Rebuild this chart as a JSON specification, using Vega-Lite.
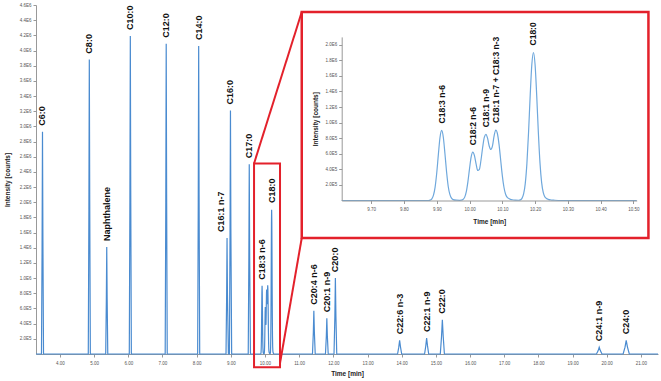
{
  "$schema": "https://vega.github.io/schema/vega-lite/v6.json",
  "width": 622,
  "height": 349,
  "autosize": {"type": "none"},
  "padding": {"left": 36, "top": 5, "right": 3, "bottom": 27},
  "background": "white",
  "config": {"view": {"stroke": null}, "font": "Liberation Sans"},
  "datasets": {
    "trace": [
      {"t": 3.3, "i": 0},
      {"t": 3.46, "i": 0}, {"t": 3.478, "i": 1400000}, {"t": 3.49, "i": 2930000}, {"t": 3.502, "i": 1500000}, {"t": 3.52, "i": 0},
      {"t": 4.83, "i": 0}, {"t": 4.848, "i": 1900000}, {"t": 4.86, "i": 3880000}, {"t": 4.872, "i": 2000000}, {"t": 4.89, "i": 0},
      {"t": 5.34, "i": 0}, {"t": 5.358, "i": 700000}, {"t": 5.37, "i": 1410000}, {"t": 5.382, "i": 720000}, {"t": 5.4, "i": 0},
      {"t": 6.03, "i": 0}, {"t": 6.048, "i": 2050000}, {"t": 6.06, "i": 4190000}, {"t": 6.072, "i": 2150000}, {"t": 6.09, "i": 0},
      {"t": 7.08, "i": 0}, {"t": 7.098, "i": 2000000}, {"t": 7.11, "i": 4090000}, {"t": 7.122, "i": 2100000}, {"t": 7.14, "i": 0},
      {"t": 8.03, "i": 0}, {"t": 8.048, "i": 2000000}, {"t": 8.06, "i": 4060000}, {"t": 8.072, "i": 2100000}, {"t": 8.09, "i": 0},
      {"t": 8.86, "i": 0}, {"t": 8.878, "i": 750000}, {"t": 8.89, "i": 1530000}, {"t": 8.902, "i": 780000}, {"t": 8.93, "i": 0},
      {"t": 8.96, "i": 0}, {"t": 8.978, "i": 1600000}, {"t": 8.99, "i": 3210000}, {"t": 9.002, "i": 1650000}, {"t": 9.025, "i": 0},
      {"t": 9.51, "i": 0}, {"t": 9.528, "i": 1230000}, {"t": 9.54, "i": 2500000}, {"t": 9.552, "i": 1280000}, {"t": 9.575, "i": 0},
      {"t": 9.61, "i": 0}, {"t": 9.7, "i": 0}, {"t": 9.8, "i": 0}, {"t": 9.875, "i": 0},
      {"t": 9.88, "i": 5000}, {"t": 9.885, "i": 20000}, {"t": 9.89, "i": 68000}, {"t": 9.895, "i": 172000}, {"t": 9.9, "i": 356000},
      {"t": 9.905, "i": 595000}, {"t": 9.91, "i": 812000}, {"t": 9.915, "i": 900000}, {"t": 9.92, "i": 812000}, {"t": 9.925, "i": 600000},
      {"t": 9.93, "i": 365000}, {"t": 9.935, "i": 180000}, {"t": 9.94, "i": 78000}, {"t": 9.945, "i": 30000}, {"t": 9.95, "i": 12000},
      {"t": 9.96, "i": 4000}, {"t": 9.97, "i": 2000}, {"t": 9.975, "i": 4000}, {"t": 9.98, "i": 12000}, {"t": 9.985, "i": 40000},
      {"t": 9.99, "i": 110000}, {"t": 9.995, "i": 240000}, {"t": 10.0, "i": 410000}, {"t": 10.005, "i": 560000}, {"t": 10.01, "i": 620000},
      {"t": 10.015, "i": 575000}, {"t": 10.02, "i": 470000}, {"t": 10.025, "i": 385000}, {"t": 10.03, "i": 400000}, {"t": 10.035, "i": 520000},
      {"t": 10.04, "i": 680000}, {"t": 10.045, "i": 810000}, {"t": 10.05, "i": 850000}, {"t": 10.055, "i": 800000}, {"t": 10.06, "i": 700000},
      {"t": 10.065, "i": 655000}, {"t": 10.07, "i": 700000}, {"t": 10.075, "i": 830000}, {"t": 10.08, "i": 905000}, {"t": 10.085, "i": 860000},
      {"t": 10.09, "i": 720000}, {"t": 10.095, "i": 520000}, {"t": 10.1, "i": 320000}, {"t": 10.105, "i": 170000}, {"t": 10.11, "i": 80000},
      {"t": 10.115, "i": 40000}, {"t": 10.12, "i": 25000}, {"t": 10.125, "i": 15000}, {"t": 10.13, "i": 10000}, {"t": 10.14, "i": 5000},
      {"t": 10.15, "i": 3000}, {"t": 10.155, "i": 8000}, {"t": 10.16, "i": 27000}, {"t": 10.165, "i": 84000}, {"t": 10.17, "i": 217000},
      {"t": 10.175, "i": 473000}, {"t": 10.18, "i": 870000}, {"t": 10.185, "i": 1343000}, {"t": 10.19, "i": 1742000}, {"t": 10.195, "i": 1900000},
      {"t": 10.2, "i": 1742000}, {"t": 10.205, "i": 1343000}, {"t": 10.21, "i": 870000}, {"t": 10.215, "i": 480000}, {"t": 10.22, "i": 230000},
      {"t": 10.225, "i": 100000}, {"t": 10.23, "i": 45000}, {"t": 10.235, "i": 25000}, {"t": 10.24, "i": 15000}, {"t": 10.25, "i": 6000},
      {"t": 10.26, "i": 3000}, {"t": 10.28, "i": 0}, {"t": 10.51, "i": 0},
      {"t": 11.39, "i": 0}, {"t": 11.415, "i": 280000}, {"t": 11.43, "i": 570000}, {"t": 11.445, "i": 290000}, {"t": 11.47, "i": 0},
      {"t": 11.77, "i": 0}, {"t": 11.795, "i": 230000}, {"t": 11.81, "i": 470000}, {"t": 11.825, "i": 240000}, {"t": 11.85, "i": 0},
      {"t": 12.02, "i": 0}, {"t": 12.045, "i": 490000}, {"t": 12.06, "i": 1000000}, {"t": 12.075, "i": 510000}, {"t": 12.1, "i": 0},
      {"t": 13.88, "i": 0}, {"t": 13.915, "i": 90000}, {"t": 13.94, "i": 180000}, {"t": 13.965, "i": 95000}, {"t": 14.0, "i": 0},
      {"t": 14.67, "i": 0}, {"t": 14.705, "i": 105000}, {"t": 14.73, "i": 210000}, {"t": 14.755, "i": 110000}, {"t": 14.79, "i": 0},
      {"t": 15.13, "i": 0}, {"t": 15.165, "i": 225000}, {"t": 15.19, "i": 450000}, {"t": 15.215, "i": 235000}, {"t": 15.25, "i": 0},
      {"t": 19.7, "i": 0}, {"t": 19.75, "i": 45000}, {"t": 19.78, "i": 90000}, {"t": 19.81, "i": 48000}, {"t": 19.86, "i": 0},
      {"t": 20.48, "i": 0}, {"t": 20.535, "i": 90000}, {"t": 20.57, "i": 180000}, {"t": 20.605, "i": 95000}, {"t": 20.66, "i": 0},
      {"t": 21.5, "i": 0}
    ],
    "labels": [
      {"name": "C6:0", "t": 3.49, "i": 2930000},
      {"name": "C8:0", "t": 4.86, "i": 3880000},
      {"name": "Naphthalene", "t": 5.37, "i": 1410000},
      {"name": "C10:0", "t": 6.06, "i": 4190000},
      {"name": "C12:0", "t": 7.11, "i": 4090000},
      {"name": "C14:0", "t": 8.06, "i": 4060000},
      {"name": "C16:1 n-7", "t": 8.89, "i": 1530000},
      {"name": "C16:0", "t": 8.99, "i": 3210000},
      {"name": "C17:0", "t": 9.54, "i": 2500000},
      {"name": "C18:3 n-6", "t": 9.915, "i": 900000},
      {"name": "C18:0", "t": 10.195, "i": 1910000},
      {"name": "C20:4 n-6", "t": 11.43, "i": 570000},
      {"name": "C20:1 n-9", "t": 11.81, "i": 470000},
      {"name": "C20:0", "t": 12.06, "i": 1000000},
      {"name": "C22:6 n-3", "t": 13.94, "i": 180000},
      {"name": "C22:1 n-9", "t": 14.73, "i": 210000},
      {"name": "C22:0", "t": 15.19, "i": 450000},
      {"name": "C24:1 n-9", "t": 19.78, "i": 90000},
      {"name": "C24:0", "t": 20.57, "i": 180000}
    ],
    "inlabels": [
      {"name": "C18:3 n-6", "t": 9.915, "i": 900000},
      {"name": "C18:2 n-6", "t": 10.01, "i": 620000},
      {"name": "C18:1 n-9", "t": 10.05, "i": 850000},
      {"name": "C18:1 n-7 + C18:3 n-3", "t": 10.08, "i": 905000},
      {"name": "C18:0", "t": 10.195, "i": 1900000}
    ],
    "boxes": [
      {"kind": "small", "t": 9.68, "t2": 10.44, "i": -175000, "i2": 2510000},
      {"kind": "big", "t": 11.076, "t2": 21.22, "i": 1529000, "i2": 4508000}
    ],
    "links": [
      {"t": 9.68, "i": 2510000, "t2": 11.076, "i2": 4508000},
      {"t": 10.44, "i": -120000, "t2": 11.076, "i2": 1529000}
    ]
  },
  "resolve": {"scale": {"x": "independent", "y": "independent"}},
  "layer": [
    {
      "data": {"name": "trace"},
      "mark": {"type": "line", "color": "#4a8bd0", "strokeWidth": 1.2, "clip": false},
      "encoding": {
        "x": {
          "field": "t", "type": "quantitative",
          "scale": {"domain": [3.3, 21.5], "nice": false, "zero": false},
          "axis": {
            "title": "Time [min]", "orient": "bottom",
            "values": [4, 5, 6, 7, 8, 9, 10, 11, 12, 13, 14, 15, 16, 17, 18, 19, 20, 21],
            "format": ".2f", "grid": false,
            "labelFontSize": 4.5, "labelColor": "#555555", "labelPadding": 3,
            "tickSize": 3, "tickColor": "#999999", "domainColor": "#999999",
            "titleFontSize": 6.5, "titleFontWeight": "bold", "titleColor": "#222222", "titlePadding": 6
          }
        },
        "y": {
          "field": "i", "type": "quantitative",
          "scale": {"domain": [0, 4600000], "nice": false},
          "axis": {
            "title": "Intensity [counts]", "orient": "left",
            "values": [200000, 400000, 600000, 800000, 1000000, 1200000, 1400000, 1600000, 1800000, 2000000, 2200000, 2400000, 2600000, 2800000, 3000000, 3200000, 3400000, 3600000, 3800000, 4000000, 4200000, 4400000, 4600000],
            "labelExpr": "datum.value >= 1000000 ? format(datum.value / 1000000, '.1f') + 'E6' : format(datum.value / 100000, '.1f') + 'E5'",
            "grid": false,
            "labelFontSize": 4.5, "labelColor": "#555555", "labelPadding": 2,
            "tickSize": 3, "tickColor": "#999999", "domainColor": "#999999",
            "titleFontSize": 6.5, "titleFontWeight": "bold", "titleColor": "#222222", "titlePadding": 9
          }
        }
      }
    },
    {
      "data": {"name": "labels"},
      "transform": [{"filter": "datum.name != 'C16:1 n-7'"}],
      "mark": {"type": "text", "angle": 270, "align": "left", "baseline": "middle", "dx": 6, "font": "Liberation Sans", "fontWeight": "bold", "fontSize": 9, "color": "#111111"},
      "encoding": {
        "x": {"field": "t", "type": "quantitative", "scale": {"domain": [3.3, 21.5], "nice": false, "zero": false}, "axis": null},
        "y": {"field": "i", "type": "quantitative", "scale": {"domain": [0, 4600000], "nice": false}, "axis": null},
        "text": {"field": "name"}
      }
    },
    {
      "data": {"name": "labels"},
      "transform": [{"filter": "datum.name == 'C16:1 n-7'"}],
      "mark": {"type": "text", "angle": 270, "align": "left", "baseline": "middle", "dx": 6, "dy": -6, "font": "Liberation Sans", "fontWeight": "bold", "fontSize": 9, "color": "#111111"},
      "encoding": {
        "x": {"field": "t", "type": "quantitative", "scale": {"domain": [3.3, 21.5], "nice": false, "zero": false}, "axis": null},
        "y": {"field": "i", "type": "quantitative", "scale": {"domain": [0, 4600000], "nice": false}, "axis": null},
        "text": {"field": "name"}
      }
    },
    {
      "data": {"name": "boxes"},
      "transform": [{"filter": "datum.kind == 'small'"}],
      "mark": {"type": "rect", "filled": false, "stroke": "#e3212b", "strokeWidth": 2},
      "encoding": {
        "x": {"field": "t", "type": "quantitative", "scale": {"domain": [3.3, 21.5], "nice": false, "zero": false}, "axis": null},
        "x2": {"field": "t2"},
        "y": {"field": "i", "type": "quantitative", "scale": {"domain": [0, 4600000], "nice": false}, "axis": null},
        "y2": {"field": "i2"}
      }
    },
    {
      "data": {"name": "links"},
      "mark": {"type": "rule", "color": "#e3212b", "strokeWidth": 2},
      "encoding": {
        "x": {"field": "t", "type": "quantitative", "scale": {"domain": [3.3, 21.5], "nice": false, "zero": false}, "axis": null},
        "x2": {"field": "t2"},
        "y": {"field": "i", "type": "quantitative", "scale": {"domain": [0, 4600000], "nice": false}, "axis": null},
        "y2": {"field": "i2"}
      }
    },
    {
      "data": {"name": "boxes"},
      "transform": [{"filter": "datum.kind == 'big'"}],
      "mark": {"type": "rect", "fill": "white", "stroke": "#e3212b", "strokeWidth": 2.5},
      "encoding": {
        "x": {"field": "t", "type": "quantitative", "scale": {"domain": [3.3, 21.5], "nice": false, "zero": false}, "axis": null},
        "x2": {"field": "t2"},
        "y": {"field": "i", "type": "quantitative", "scale": {"domain": [0, 4600000], "nice": false}, "axis": null},
        "y2": {"field": "i2"}
      }
    },
    {
      "data": {"name": "trace"},
      "transform": [{"filter": "datum.t >= 9.61 && datum.t <= 10.51"}],
      "mark": {"type": "line", "color": "#6fa8dc", "strokeWidth": 1.2, "interpolate": "monotone", "clip": false},
      "encoding": {
        "x": {
          "field": "t", "type": "quantitative",
          "scale": {"domain": [9.61, 10.51], "range": [305.7, 600.7], "nice": false, "zero": false},
          "axis": {
            "title": "Time [min]", "orient": "bottom", "offset": -153.5, "zindex": 1,
            "values": [9.7, 9.8, 9.9, 10.0, 10.1, 10.2, 10.3, 10.4, 10.5],
            "format": ".2f", "grid": false,
            "labelFontSize": 4.5, "labelColor": "#555555", "labelPadding": 3,
            "tickSize": 3, "tickColor": "#999999", "domainColor": "#999999",
            "titleFontSize": 6.5, "titleFontWeight": "bold", "titleColor": "#222222", "titlePadding": 7
          }
        },
        "y": {
          "field": "i", "type": "quantitative",
          "scale": {"domain": [0, 2100000], "range": [195.5, 31.9], "nice": false},
          "axis": {
            "title": "Intensity [counts]", "orient": "left", "offset": -305.7, "zindex": 1,
            "values": [200000, 400000, 600000, 800000, 1000000, 1200000, 1400000, 1600000, 1800000, 2000000],
            "labelExpr": "datum.value >= 1000000 ? format(datum.value / 1000000, '.1f') + 'E6' : format(datum.value / 100000, '.1f') + 'E5'",
            "grid": false,
            "labelFontSize": 4.5, "labelColor": "#555555", "labelPadding": 2,
            "tickSize": 3, "tickColor": "#999999", "domainColor": "#999999",
            "titleFontSize": 6.5, "titleFontWeight": "bold", "titleColor": "#222222", "titlePadding": 6
          }
        }
      }
    },
    {
      "data": {"name": "inlabels"},
      "mark": {"type": "text", "angle": 270, "align": "left", "baseline": "middle", "dx": 7, "font": "Liberation Sans", "fontWeight": "bold", "fontSize": 8.5, "color": "#111111"},
      "encoding": {
        "x": {"field": "t", "type": "quantitative", "scale": {"domain": [9.61, 10.51], "range": [305.7, 600.7], "nice": false, "zero": false}, "axis": null},
        "y": {"field": "i", "type": "quantitative", "scale": {"domain": [0, 2100000], "range": [195.5, 31.9], "nice": false}, "axis": null},
        "text": {"field": "name"}
      }
    }
  ]
}
